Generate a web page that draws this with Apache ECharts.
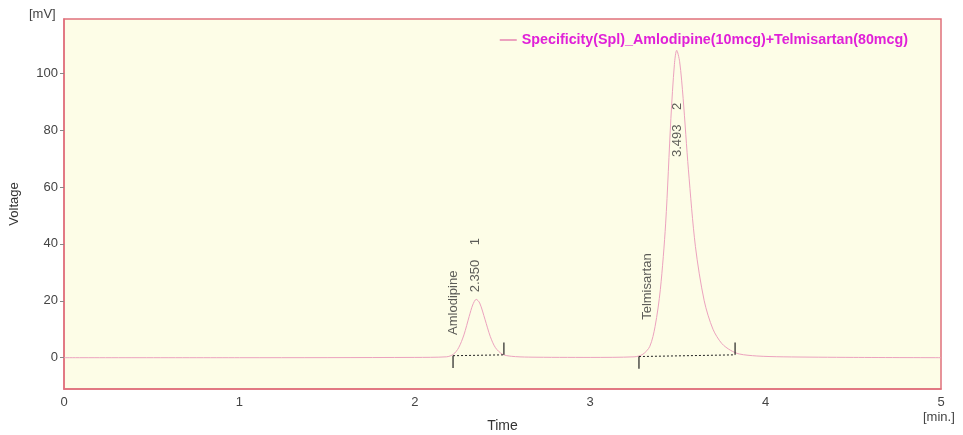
<!DOCTYPE html>
<html>
<head>
<meta charset="utf-8">
<script src="https://cdn.jsdelivr.net/npm/echarts@6/dist/echarts.min.js"></script>
<style>
  html, body { margin: 0; padding: 0; background: #fff; }
  #chart { width: 963px; height: 435px; }
</style>
</head>
<body>
<div id="chart"></div>
<script>
// chromatogram trace (time in min, signal in mV)
const traceTime = [0, 1.0, 2.0, 2.18, 2.22, 2.25, 2.28, 2.31, 2.33, 2.35, 2.37, 2.40, 2.43, 2.46, 2.50, 2.55, 2.65,
  3.0, 3.25, 3.30, 3.34, 3.37, 3.40, 3.43, 3.46, 3.48, 3.493, 3.51, 3.53, 3.56, 3.60, 3.65, 3.70, 3.75, 3.80, 3.85, 3.95, 4.1, 4.5, 5.0];
const traceMv = [0, 0, 0.1, 0.3, 1.2, 3.5, 8, 14.5, 18.5, 20.5, 19.2, 13.5, 7.5, 3.5, 1.2, 0.5, 0.2,
  0.1, 0.3, 1.2, 4, 11, 24, 47, 84, 103, 108, 104, 91, 66, 39, 20, 10, 5, 2.6, 1.3, 0.6, 0.3, 0.1, 0];

const seriesName = "Specificity(Spl)_Amlodipine(10mcg)+Telmisartan(80mcg)";
const yTicks = [0, 20, 40, 60, 80, 100];

// integration baselines: [t, mV] at start and end of each peak
const peakStart = [[2.218, 0.7], [3.278, 0.4]];
const peakEnd = [[2.508, 1.0], [3.826, 1.0]];

// peak labels: [text, t, mV] (text runs upward from the point)
const nameLabels = [["Amlodipine", 2.218, 8], ["Telmisartan", 3.324, 13.3]];
const rtLabels = [["2.350    1", 2.343, 23], ["3.493    2", 3.495, 70.5]];

const FONT = '"Liberation Sans", Arial, sans-serif';
const INK = "#333";
const FRAME = "#e0707c";

const chart = echarts.init(document.getElementById("chart"), null, { renderer: "canvas" });

const baselineData = [];
const tickData = [];
for (let i = 0; i < peakStart.length; i++) {
  const s = peakStart[i], e = peakEnd[i];
  baselineData.push(s, e, [null, null]);
  tickData.push([s[0], s[1]], [s[0], s[1] - 4.3], [null, null]);
  tickData.push([e[0], e[1]], [e[0], e[1] + 4.3], [null, null]);
}

function labelSeries(items) {
  return {
    type: "scatter",
    symbolSize: 0,
    silent: true,
    data: items.map((d) => ({ value: [d[1], d[2]], name: d[0] })),
    label: {
      show: true,
      position: "inside",
      rotate: 90,
      align: "left",
      verticalAlign: "middle",
      formatter: (p) => p.name,
      fontFamily: FONT,
      fontSize: 13,
      color: INK,
    },
  };
}

chart.setOption({
  animation: false,
  textStyle: { fontFamily: FONT, color: INK },
  grid: {
    left: 64, right: 22, top: 19, bottom: 46,
    outerBoundsMode: "none",
    show: true, backgroundColor: "#fdfde7", borderColor: FRAME, borderWidth: 1.5,
  },
  legend: {
    top: 28, right: 50,
    itemWidth: 17, itemHeight: 2, itemGap: 8,
    icon: "rect",
    textStyle: { color: "#e020d8", fontWeight: "bold", fontSize: 14.3, fontFamily: FONT },
    data: [seriesName],
  },
  xAxis: {
    type: "value", min: 0, max: 5, interval: 1,
    name: "Time", nameLocation: "middle", nameGap: 30,
    nameTextStyle: { fontSize: 14, color: INK },
    axisLine: { show: true, onZero: false, lineStyle: { color: FRAME, width: 1.5 } },
    axisTick: { show: false },
    axisLabel: { color: "#444", fontSize: 13, margin: 7 },
    splitLine: { show: false },
  },
  yAxis: {
    type: "value", min: -11, max: 119,
    name: "Voltage", nameLocation: "middle", nameGap: 43,
    nameTextStyle: { fontSize: 13, color: INK },
    axisLine: { show: true, onZero: false, lineStyle: { color: FRAME, width: 1.5 } },
    axisTick: { show: true, length: 4, customValues: yTicks, lineStyle: { color: "#888" } },
    axisLabel: { color: "#444", fontSize: 13, margin: 6, customValues: yTicks },
    splitLine: { show: false },
  },
  graphic: [
    { type: "text", left: 29, top: 8, style: { text: "[mV]", font: "13px " + FONT, fill: "#444" } },
    { type: "text", left: 923, top: 411, style: { text: "[min.]", font: "13px " + FONT, fill: "#444" } },
  ],
  series: [
    {
      name: seriesName,
      type: "line",
      data: traceTime.map((t, i) => [t, traceMv[i]]),
      smooth: 0.3,
      showSymbol: false,
      lineStyle: { color: "#eca2be", width: 1 },
      itemStyle: { color: "#eca2be" },
      z: 3,
    },
    {
      type: "line", data: baselineData, showSymbol: false, silent: true, connectNulls: false,
      lineStyle: { color: "#222", width: 1, type: [2, 2] },
      z: 4,
    },
    {
      type: "line", data: tickData, showSymbol: false, silent: true, connectNulls: false,
      lineStyle: { color: "#222", width: 1.2 },
      z: 4,
    },
    labelSeries(nameLabels),
    labelSeries(rtLabels),
  ],
});
</script>
</body>
</html>
